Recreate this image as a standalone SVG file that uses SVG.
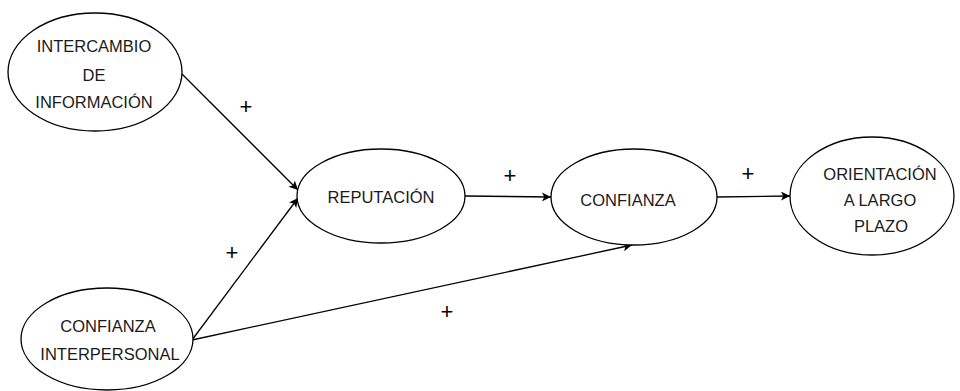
<svg xmlns="http://www.w3.org/2000/svg" width="960" height="391" viewBox="0 0 960 391">
<style>
.n ellipse{fill:#fff;stroke:#000;stroke-width:1.3}
.n text,.lbl{font-family:"Liberation Sans",Arial,sans-serif;font-size:16.5px;fill:#1a1a1a;text-anchor:middle}
.lbl{font-size:22px;fill:#000}
.c line{stroke:#000;stroke-width:1.3;marker-end:url(#ah)}
</style>
<defs>
<marker id="ah" viewBox="0 0 10 10" refX="10" refY="5" markerWidth="11" markerHeight="9" markerUnits="userSpaceOnUse" orient="auto">
<path d="M0,0 L10,5 L0,10 L2.5,5 Z" fill="#000"/>
</marker>
</defs>
<rect width="960" height="391" fill="#fff"/>
<g class="c" id="connectors">
<line x1="182" y1="74" x2="298" y2="190"/>
<line x1="192" y1="340" x2="298" y2="198"/>
<line x1="192" y1="340" x2="632" y2="245"/>
<line x1="465" y1="196" x2="551" y2="197"/>
<line x1="717" y1="197" x2="790" y2="196"/>
</g>
<g class="n" id="intercambio">
<ellipse cx="95" cy="72" rx="87" ry="59"/>
<text x="94" y="52">INTERCAMBIO</text>
<text x="94" y="81">DE</text>
<text x="94" y="108">INFORMACIÓN</text>
</g>
<g class="n" id="confianza-interpersonal">
<ellipse cx="107" cy="339" rx="86" ry="51"/>
<text x="108" y="332">CONFIANZA</text>
<text x="110" y="360">INTERPERSONAL</text>
</g>
<g class="n" id="reputacion">
<ellipse cx="381" cy="196" rx="84" ry="47"/>
<text x="381" y="203">REPUTACIÓN</text>
</g>
<g class="n" id="confianza">
<ellipse cx="634" cy="197" rx="83" ry="48"/>
<text x="628" y="206">CONFIANZA</text>
</g>
<g class="n" id="orientacion">
<ellipse cx="872" cy="196" rx="82" ry="59"/>
<text x="880" y="180">ORIENTACIÓN</text>
<text x="880" y="206">A LARGO</text>
<text x="881" y="232">PLAZO</text>
</g>
<g id="labels">
<text class="lbl" x="246" y="114">+</text>
<text class="lbl" x="232" y="260">+</text>
<text class="lbl" x="510" y="183">+</text>
<text class="lbl" x="748" y="181">+</text>
<text class="lbl" x="447" y="319">+</text>
</g>
</svg>
